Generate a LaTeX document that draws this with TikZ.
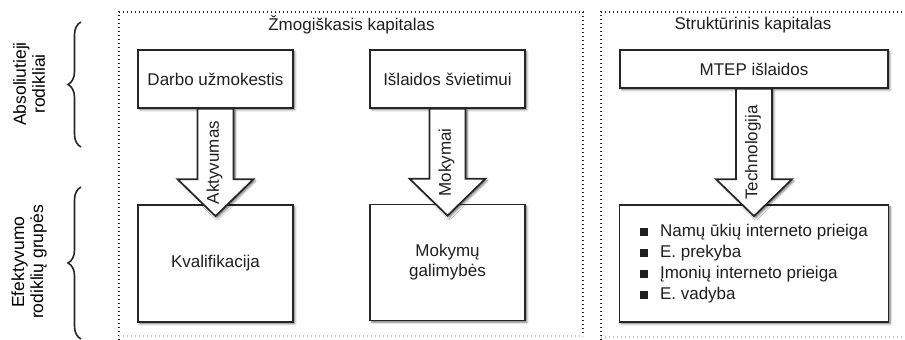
\documentclass[tikz,border=0pt]{standalone}
\usepackage{fontspec}
\setmainfont{Liberation Sans}
\usetikzlibrary{calc,decorations.pathreplacing,shadows.blur}

\definecolor{ink}{HTML}{262626}
\definecolor{txt}{HTML}{1F1F1F}
\definecolor{faint}{HTML}{C4C4C4}

% square bullet for the list
\newcommand\sqbullet{\rule[0.5pt]{8pt}{8pt}\hspace{12pt}}

% fat block arrow from the bottom of one box into the top of another
\newcommand\blockarrow[4]{%
  \draw[barrow] let \p1=(#1.south), \p2=(#2.north) in
    (\x1-18pt,\y1) -- (\x1-18pt,\y2+25pt) -- (\x1-38pt,\y2+25pt)
    -- (\x1,\y2-12pt) -- (\x1+38pt,\y2+25pt) -- (\x1+18pt,\y2+25pt)
    -- (\x1+18pt,\y1) -- cycle;
  \path let \p1=(#1.south), \p2=(#2.north) in
    node[rotate=90] (#3) at (\x1-1pt,{0.5*\y1+0.5*\y2-6pt}) {#4};
}

\begin{document}
\begin{tikzpicture}[x=1pt,y=-1pt,
  every node/.style={text=txt, font=\fontsize{17}{21}\selectfont},
  soft/.style={blur shadow={shadow xshift=1.8pt, shadow yshift=-1.8pt,
      shadow blur steps=4, shadow opacity=55}},
  box/.style={draw=ink, line width=1.7pt, fill=white, inner sep=0pt, soft},
  barrow/.style={draw=ink, line width=1.7pt, fill=white, line join=miter, soft},
  frame/.style={draw=ink, line width=1.2pt, dash pattern=on 1.4pt off 2.6pt},
  framelight/.style={draw=faint, line width=1.2pt, dash pattern=on 1.4pt off 2.6pt},
  bracket/.style={draw=ink, line width=1.6pt, decorate,
      decoration={brace, amplitude=13pt}},
  sidelabel/.style={rotate=90, align=center,
      font=\fontsize{17.5}{19}\selectfont, text=black}
]
\useasboundingbox (0,0) rectangle (905,340);

% dotted panel frames
\draw[frame] (119,340) -- (119,12) -- (583,12) -- (583,336);
\draw[framelight] (119,336) -- (583,336);
\draw[frame] (601,340) -- (601,12) -- (905,12);
\draw[framelight] (601,337) -- (905,337);

% row labels with braces
\node[sidelabel] (absl) at (29,84) {Absoliutieji\\rodikliai};
\node[sidelabel] (efl) at (29,262) {Efektyvumo\\rodiklių grupės};
\coordinate (brA1) at (81,147);
\coordinate (brA2) at (81,22);
\coordinate (brB1) at (81,339);
\coordinate (brB2) at (81,187);
\draw[bracket] (brA1) -- (brA2);
\draw[bracket] (brB1) -- (brB2);

% panel titles
\node (t1) at (351.5,25) {Žmogiškasis kapitalas};
\node (t2) at (753,25) {Struktūrinis kapitalas};

% top row
\node[box, minimum width=155pt, minimum height=58pt] (b1) at (215.5,79) {Darbo užmokestis};
\node[box, minimum width=155pt, minimum height=58pt] (b2) at (447.5,79) {Išlaidos švietimui};
\node[box, minimum width=268pt, minimum height=38pt] (b3) at (754,69) {MTEP išlaidos};

% bottom row
\node[box, minimum width=155pt, minimum height=117pt] (c1) at (215.5,263.5) {Kvalifikacija};
\node[box, minimum width=155pt, minimum height=116pt, align=center,
      font=\fontsize{17}{20}\selectfont] (c2) at (447.5,262.5) {Mokymų\\galimybės};
\node[box, minimum width=269pt, minimum height=117pt, align=left] (c3) at (754,263.5)
  {\sqbullet Namų ūkių interneto prieiga\\
   \sqbullet E. prekyba\\
   \sqbullet Įmonių interneto prieiga\\
   \sqbullet E. vadyba};

% block arrows
\blockarrow{b1}{c1}{l1}{Aktyvumas}
\blockarrow{b2}{c2}{l2}{Mokymai}
\blockarrow{b3}{c3}{l3}{Technologija}
\end{tikzpicture}
\end{document}
